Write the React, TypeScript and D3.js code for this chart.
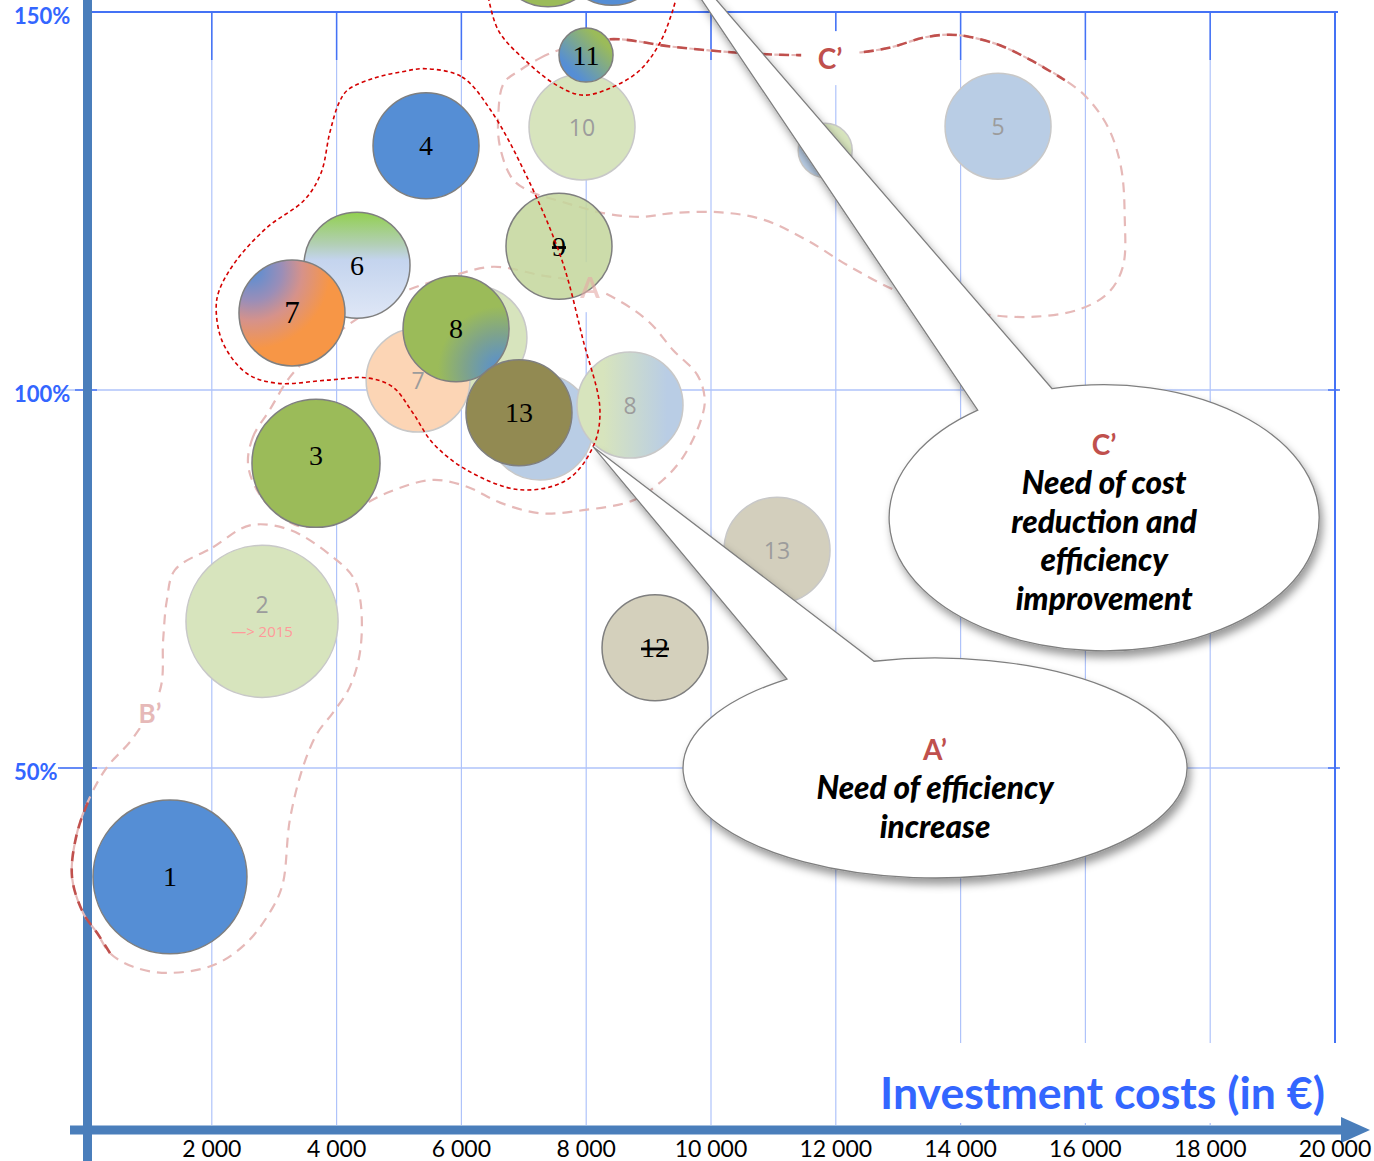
import React, { useEffect, useRef } from 'react'
import * as d3 from 'd3'

const W = 1374
const H = 1161

const xTicks = [2000, 4000, 6000, 8000, 10000, 12000, 14000, 16000, 18000, 20000]
const yTicks = [50, 100, 150]

interface Bubble {
  key: string
  label: string
  cost: number // €
  pct: number // %
  size: number
  strike?: boolean
  note?: string
}

// earlier (faded) positions
const fadedBubbles: Bubble[] = [
  { key: 'f2', label: '2', cost: 2805, pct: 69.4, size: 206, note: '—> 2015' },
  { key: 'f5', label: '5', cost: 14600, pct: 134.9, size: 100 },
  { key: 'f10', label: '10', cost: 7933, pct: 134.8, size: 100 },
  { key: 'f11', label: '', cost: 11830, pct: 131.7, size: 26 },
  { key: 'fg', label: '', cost: 6218, pct: 106.9, size: 96 },
  { key: 'f7', label: '7', cost: 5305, pct: 101.3, size: 96 },
  { key: 'fb', label: '', cost: 7260, pct: 95.1, size: 100 },
  { key: 'f8', label: '8', cost: 8702, pct: 98.0, size: 100 },
  { key: 'f13', label: '13', cost: 11058, pct: 78.8, size: 100 },
]

// current positions
const solidBubbles: Bubble[] = [
  { key: 's1', label: '1', cost: 1330, pct: 35.6, size: 211 },
  { key: 's3', label: '3', cost: 3670, pct: 90.3, size: 146 },
  { key: 's4', label: '4', cost: 5433, pct: 132.3, size: 100 },
  { key: 's6', label: '6', cost: 4327, pct: 116.5, size: 100 },
  { key: 's7', label: '7', cost: 3285, pct: 110.2, size: 100 },
  { key: 's9', label: '9', cost: 7564, pct: 119.0, size: 100, strike: true },
  { key: 's8', label: '8', cost: 5914, pct: 108.1, size: 100 },
  { key: 's13', label: '13', cost: 6923, pct: 97.0, size: 100 },
  { key: 's12', label: '12', cost: 9103, pct: 65.9, size: 100, strike: true },
  { key: 's11', label: '11', cost: 7997, pct: 144.3, size: 26 },
  { key: 'sg', label: '', cost: 7388, pct: 157.7, size: 100 },
  { key: 'sb', label: '', cost: 8414, pct: 157.9, size: 100 },
]

const bubbleFill: Record<string, string> = {
  f2: '#d7e4bd', f5: '#b9cde5', f10: '#d7e4bd', f11: 'url(#g11f)', fg: '#d7e4bd', f7: '#fcd5b5',
  fb: '#b9cde5', f8: 'url(#g8f)', f13: '#d3cfbd',
  s1: '#558ed5', s3: '#9bbb59', s4: '#558ed5', s6: 'url(#g6)', s7: 'url(#g7)', s9: '#c3d69b',
  s8: 'url(#g8)', s13: '#928a52', s12: '#d4d0bc', s11: 'url(#g11)', sg: '#9bbb59', sb: '#558ed5',
}

// outlines, [k€, %]
const outlineAprime: [number, number][] = [
  [5.43, 142.5], [6.01, 141.4], [6.47, 137.0], [7.05, 128.2], [7.61, 117.2], [7.95, 106.6],
  [8.22, 97.4], [8.11, 92.5], [7.69, 88.1], [6.94, 86.8], [6.09, 89.4], [5.54, 93.0],
  [5.22, 97.0], [4.9, 100.4], [4.49, 101.6], [3.85, 101.3], [3.04, 100.9], [2.56, 102.2],
  [2.18, 106.2], [2.07, 110.6], [2.12, 113.2], [2.4, 117.2], [2.9, 121.6], [3.48, 125.1],
  [3.75, 128.7], [3.89, 134.0], [4.04, 138.0], [4.18, 139.7], [4.62, 141.3], [5.05, 142.1],
]
const outlineTop: [number, number][] = [
  [6.41, 152.9], [6.59, 147.6], [7.05, 143.4], [7.53, 140.3], [7.95, 139.0], [8.43, 140.1],
  [8.86, 142.3], [9.18, 145.9], [9.39, 150.3], [9.47, 152.9],
]
const outlineB: [number, number][] = [
  [1.41, 76.2], [2.02, 79.2], [2.61, 82.1], [3.25, 81.5], [3.94, 77.9], [4.26, 75.3],
  [4.38, 72.2], [4.38, 65.6], [4.21, 60.7], [3.94, 57.3], [3.69, 54.6], [3.46, 50.1],
  [3.25, 43.1], [3.14, 34.8], [2.98, 31.6], [2.56, 26.9], [2.02, 23.9], [1.28, 22.9],
  [0.74, 23.7], [0.37, 25.5], [0.16, 28.2], [-0.06, 30.8], [-0.24, 35.6], [-0.16, 41.4],
  [0.05, 46.2], [0.32, 50.1], [0.74, 54.0], [1.17, 60.3], [1.22, 66.9], [1.28, 72.2],
]
const outlineA: [number, number][] = [
  [2.93, 97.4], [2.66, 93.8], [2.58, 90.3], [2.72, 86.8], [3.04, 83.7], [3.46, 81.9],
  [4.05, 83.2], [4.81, 86.4], [5.54, 88.1], [6.09, 87.2], [6.62, 85.1], [7.26, 83.7],
  [7.95, 84.1], [8.75, 85.4], [9.23, 88.1], [9.55, 91.1], [9.82, 95.6], [9.9, 98.7],
  [9.78, 102.0], [9.39, 105.3], [9.02, 108.9], [8.59, 111.5], [7.9, 114.2], [7.26, 115.2],
  [6.51, 116.3], [5.82, 115.0], [5.02, 112.8], [4.38, 109.7], [3.73, 105.7], [3.25, 101.7],
]
const outlineC: [number, number][] = [
  [6.94, 142.3], [7.26, 143.9], [7.58, 145.0], [8.38, 146.4], [9.39, 145.4], [10.46, 144.6],
  [11.41, 144.3], [11.91, 144.4], [12.44, 144.7], [12.92, 145.4], [13.4, 146.6], [13.81, 147.0],
  [14.15, 146.7], [14.63, 145.6], [15.11, 143.7], [15.67, 141.0], [16.01, 138.8], [16.36, 134.8],
  [16.57, 129.5], [16.63, 122.9], [16.6, 116.3], [16.36, 112.8], [15.88, 110.6], [15.19, 109.7],
  [14.5, 109.9], [13.83, 111.0], [13.06, 112.8], [12.23, 116.3], [11.54, 119.8], [10.85, 122.5],
  [10.16, 123.5], [9.39, 123.4], [8.86, 122.9], [8.27, 123.4], [7.9, 124.2], [7.53, 125.1],
  [7.15, 126.1], [6.83, 127.8], [6.62, 132.1], [6.59, 136.1], [6.68, 140.6],
]

const groupLabels = [
  { key: 'B', text: 'B’', k: 1.01, pct: 57.3 },
  { key: 'A', text: 'A', k: 8.06, pct: 113.6 },
  { key: 'C', text: 'C’', k: 11.91, pct: 143.9 },
]

const callouts = [
  { key: 'C', title: 'C’', lines: ['Need of cost', 'reduction and', 'efficiency', 'improvement'], k: 16.3, pct: 83.1, tipK: 9.02, tipPct: 161.8 },
  { key: 'A', title: 'A’', lines: ['Need of efficiency', 'increase'], k: 13.59, pct: 50.0, tipK: 8.11, tipPct: 92.5 },
]

const BRIGHT = '#4472f5'
const GRID = '#afc3fa'
const AXIS = '#4a7ebb'
const LABEL_BLUE = '#3366ff'

export default function App() {
  const svgRef = useRef<SVGSVGElement>(null)

  useEffect(() => {
    if (!svgRef.current) return
    const svg = d3.select(svgRef.current)
    svg.selectAll('*').remove()

    const x = d3.scaleLinear().domain([0, 20000]).range([87, 1335])
    const y = d3.scaleLinear().domain([0, 150]).range([1146, 12])
    const r = d3.scaleSqrt().domain([0, 100]).range([0, 53])
    const kx = (k: number) => x(k * 1000)
    const axisY = 1130
    const gridBottom = 1125

    // defs: gradients + shadow
    const defs = svg.append('defs')
    const lin = (id: string, c: number[], stops: [number, string][]) => {
      const g = defs.append('linearGradient').attr('id', id)
        .attr('x1', c[0]).attr('y1', c[1]).attr('x2', c[2]).attr('y2', c[3])
      stops.forEach(([o, col]) => g.append('stop').attr('offset', o).attr('stop-color', col))
    }
    const rad = (id: string, c: number[], stops: [number, string][]) => {
      const g = defs.append('radialGradient').attr('id', id)
        .attr('cx', c[0]).attr('cy', c[1]).attr('r', c[2]).attr('fx', c[0]).attr('fy', c[1])
      stops.forEach(([o, col]) => g.append('stop').attr('offset', o).attr('stop-color', col))
    }
    lin('g6', [0, 0, 0, 1], [[0, '#92d050'], [0.3, '#b2cfb4'], [0.45, '#c4d4ee'], [1, '#dfe7f6']])
    rad('g7', [0.12, 0.1, 0.95], [[0, '#558ed5'], [0.3, '#9a8eb8'], [0.5, '#d6928a'], [0.78, '#f79646']])
    rad('g8', [0.92, 0.88, 0.95], [[0, '#558ed5'], [0.35, '#7ea38c'], [0.62, '#9bbb59']])
    lin('g11', [0.1, 0.9, 0.9, 0.1], [[0.15, '#558ed5'], [0.85, '#9bbb59']])
    lin('g8f', [0, 0, 1, 0], [[0.25, '#d7e4bd'], [0.85, '#b9cde5']])
    lin('g11f', [0.1, 0.9, 0.9, 0.1], [[0.2, '#b9cde5'], [0.8, '#d7e4bd']])
    const filt = defs.append('filter').attr('id', 'shadow')
      .attr('x', '-20%').attr('y', '-20%').attr('width', '140%').attr('height', '150%')
    filt.append('feDropShadow').attr('dx', 3).attr('dy', 6).attr('stdDeviation', 4)
      .attr('flood-color', '#000').attr('flood-opacity', 0.4)

    svg.append('rect').attr('width', W).attr('height', H).attr('fill', '#fff')

    // grid
    svg.append('g').selectAll('line').data(xTicks.slice(0, -1)).join('line')
      .attr('x1', (d) => x(d)).attr('x2', (d) => x(d))
      .attr('y1', y(150)).attr('y2', gridBottom)
      .attr('stroke', GRID).attr('stroke-width', 1.2)
    svg.append('g').selectAll('line').data(yTicks.slice(0, -1)).join('line')
      .attr('x1', 60).attr('x2', 1338)
      .attr('y1', (d) => y(d)).attr('y2', (d) => y(d))
      .attr('stroke', GRID).attr('stroke-width', 1.5)

    // white box behind axis title
    svg.append('rect').attr('x', 870).attr('y', 1043).attr('width', 475).attr('height', 80).attr('fill', '#fff')

    // bright frame + ticks
    const bright = svg.append('g').attr('stroke', BRIGHT)
    bright.append('line').attr('x1', 87).attr('x2', 1338).attr('y1', y(150)).attr('y2', y(150)).attr('stroke-width', 2)
    bright.append('line').attr('x1', x(20000)).attr('x2', x(20000)).attr('y1', y(150)).attr('y2', 1043).attr('stroke-width', 2)
    bright.selectAll('.tt').data(xTicks.slice(0, -1)).join('line')
      .attr('x1', (d) => x(d)).attr('x2', (d) => x(d)).attr('y1', y(150)).attr('y2', 60).attr('stroke-width', 1.5)
    bright.selectAll('.rt').data(yTicks.slice(0, -1)).join('line')
      .attr('x1', 1328).attr('x2', 1340).attr('y1', (d) => y(d)).attr('y2', (d) => y(d)).attr('stroke-width', 1.5)
    bright.selectAll('.lt').data(yTicks.slice(0, -1)).join('line')
      .attr('x1', (d) => (d === 50 ? 58 : 75)).attr('x2', 97).attr('y1', (d) => y(d)).attr('y2', (d) => y(d)).attr('stroke-width', 1.5)

    // axes
    svg.append('line').attr('x1', 87.5).attr('x2', 87.5).attr('y1', 0).attr('y2', H)
      .attr('stroke', AXIS).attr('stroke-width', 9)
    svg.append('line').attr('x1', 70).attr('x2', 1345).attr('y1', axisY).attr('y2', axisY)
      .attr('stroke', AXIS).attr('stroke-width', 9)
    svg.append('path').attr('d', `M1341,${axisY - 13} L1370,${axisY} L1341,${axisY + 13} Z`).attr('fill', AXIS)

    // group outlines
    const toPts = (arr: [number, number][]) => arr.map(([k, p]) => [kx(k), y(p)] as [number, number])
    const closed = d3.line().curve(d3.curveCatmullRomClosed.alpha(0.5))
    const open = d3.line().curve(d3.curveCatmullRom.alpha(0.5))
    const pink = (sel: any) => sel.attr('fill', 'none').attr('stroke', '#e6b9b8').attr('stroke-width', 2.2).attr('stroke-dasharray', '10 7')
    const darkRed = (sel: any) => sel.attr('fill', 'none').attr('stroke', '#c0504d').attr('stroke-width', 2.6).attr('stroke-dasharray', '10 7')
    const redThin = (sel: any) => sel.attr('fill', 'none').attr('stroke', '#d40000').attr('stroke-width', 1.6).attr('stroke-dasharray', '4 3')

    svg.append('path').attr('d', closed(toPts(outlineB))).call(pink)
    svg.append('path').attr('d', open(toPts(outlineB.slice(19, 25)))).call(darkRed)
    svg.append('path').attr('d', closed(toPts(outlineA))).call(pink)
    svg.append('path').attr('d', closed(toPts(outlineC))).call(pink)
    svg.append('path').attr('d', open(toPts(outlineC.slice(2, 16)))).call(darkRed)

    // label boxes
    const boxes: Record<string, [number, number]> = { B: [30, 30], A: [30, 50], C: [58, 54] }
    groupLabels.forEach((g) => {
      const [bw, bh] = boxes[g.key]
      svg.append('rect').attr('x', kx(g.k) - bw / 2).attr('y', y(g.pct) - bh / 2)
        .attr('width', bw).attr('height', bh).attr('fill', '#fff')
    })

    // bubbles
    const drawBubbles = (data: Bubble[], faded: boolean) => {
      const g = svg.append('g')
      g.selectAll('circle').data(data).join('circle')
        .attr('cx', (d) => x(d.cost)).attr('cy', (d) => y(d.pct)).attr('r', (d) => r(d.size))
        .attr('fill', (d) => bubbleFill[d.key])
        .attr('fill-opacity', (d) => (d.key === 's9' ? 0.85 : 1))
        .attr('stroke', faded ? '#c8c8c8' : '#7f7f7f').attr('stroke-width', 1.5)
      return g
    }
    const fg = drawBubbles(fadedBubbles, true)
    const sg = drawBubbles(solidBubbles, false)

    fg.selectAll('text.lbl').data(fadedBubbles.filter((d) => d.label)).join('text')
      .attr('class', 'lbl')
      .attr('x', (d) => x(d.cost)).attr('y', (d) => y(d.pct) - (d.note ? 17 : 0))
      .attr('text-anchor', 'middle').attr('dominant-baseline', 'central')
      .attr('font-family', '"Open Sans", sans-serif').attr('font-size', 23).attr('fill', '#9c9c9c')
      .text((d) => d.label)
    fg.selectAll('text.note').data(fadedBubbles.filter((d) => d.note)).join('text')
      .attr('class', 'note')
      .attr('x', (d) => x(d.cost)).attr('y', (d) => y(d.pct) + 10)
      .attr('text-anchor', 'middle').attr('dominant-baseline', 'central')
      .attr('font-family', '"Open Sans", sans-serif').attr('font-size', 15).attr('fill', '#ff9a9a')
      .text((d) => d.note || '')

    sg.selectAll('text').data(solidBubbles.filter((d) => d.label)).join('text')
      .attr('x', (d) => x(d.cost)).attr('y', (d) => y(d.pct) - (d.key === 's3' ? 8 : 0))
      .attr('text-anchor', 'middle').attr('dominant-baseline', 'central')
      .attr('font-family', '"Liberation Serif", "DejaVu Serif", serif')
      .attr('font-size', (d) => (d.key === 's7' ? 31 : 28)).attr('fill', '#000')
      .style('text-decoration', (d) => (d.strike ? 'line-through' : 'none'))
      .text((d) => d.label)

    // thin red outlines on top
    svg.append('path').attr('d', closed(toPts(outlineAprime))).call(redThin)
    svg.append('path').attr('d', open(toPts(outlineTop))).call(redThin)

    // group labels
    const lblStyle: Record<string, { fill: string; op: number; size: number }> = {
      B: { fill: '#e6b9b8', op: 1, size: 26 },
      A: { fill: '#e6a9a6', op: 0.6, size: 28 },
      C: { fill: '#c0504d', op: 1, size: 28 },
    }
    groupLabels.forEach((g) => {
      const s = lblStyle[g.key]
      svg.append('text').attr('x', kx(g.k)).attr('y', y(g.pct))
        .attr('text-anchor', 'middle').attr('dominant-baseline', 'central')
        .attr('font-family', 'Lato, "Open Sans", sans-serif').attr('font-weight', 700)
        .attr('font-size', s.size).attr('fill', s.fill).attr('opacity', s.op)
        .text(g.text)
    })

    // tick labels
    svg.append('g').selectAll('text').data(xTicks).join('text')
      .attr('x', (d) => x(d)).attr('y', 1148)
      .attr('text-anchor', 'middle').attr('dominant-baseline', 'central')
      .attr('font-family', 'Lato, sans-serif').attr('font-size', 23).attr('fill', '#000')
      .text((d) => d3.format(',')(d).replace(',', ' '))
    svg.append('g').selectAll('text').data(yTicks).join('text')
      .attr('x', 14).attr('y', (d) => y(d) + 3)
      .attr('dominant-baseline', 'central')
      .attr('font-family', 'Lato, sans-serif').attr('font-weight', 700).attr('font-size', 22)
      .attr('fill', LABEL_BLUE)
      .text((d) => `${d}%`)
    svg.append('text').attr('x', 880).attr('y', 1092)
      .attr('dominant-baseline', 'central')
      .attr('font-family', 'Lato, sans-serif').attr('font-weight', 700).attr('font-size', 44)
      .attr('fill', LABEL_BLUE)
      .attr('textLength', 445).attr('lengthAdjust', 'spacingAndGlyphs')
      .text('Investment costs (in €)')

    // callouts
    const calloutLayout: Record<string, { rx: number; ry: number; dy: number }> = {
      C: { rx: 215, ry: 133, dy: 3 },
      A: { rx: 252, ry: 110, dy: 19 },
    }
    const a1 = (256 * Math.PI) / 180
    const a2 = (234 * Math.PI) / 180
    callouts.forEach((c) => {
      const { rx, ry, dy } = calloutLayout[c.key]
      const cx = kx(c.k)
      const cy = y(c.pct)
      const p1 = [cx + rx * Math.cos(a1), cy + ry * Math.sin(a1)]
      const p2 = [cx + rx * Math.cos(a2), cy + ry * Math.sin(a2)]
      const tip = [kx(c.tipK), y(c.tipPct)]
      svg.append('path')
        .attr('d', `M${p1[0]},${p1[1]} A${rx},${ry} 0 1 1 ${p2[0]},${p2[1]} L${tip[0]},${tip[1]} Z`)
        .attr('fill', '#fff').attr('stroke', '#7f7f7f').attr('stroke-width', 1.3)
        .attr('filter', 'url(#shadow)')
      const lh = 38.5
      const n = c.lines.length
      const y0 = cy - (n * lh) / 2 + dy
      svg.append('text').attr('x', cx).attr('y', y0)
        .attr('text-anchor', 'middle').attr('dominant-baseline', 'central')
        .attr('font-family', 'Lato, sans-serif').attr('font-weight', 700).attr('font-size', 28)
        .attr('fill', '#c0504d').text(c.title)
      c.lines.forEach((ln, i) => {
        svg.append('text').attr('x', cx).attr('y', y0 + lh * (i + 1))
          .attr('text-anchor', 'middle').attr('dominant-baseline', 'central')
          .attr('font-family', 'Lato, sans-serif').attr('font-weight', 900).attr('font-style', 'italic')
          .attr('font-size', 31.5).attr('fill', '#000').text(ln)
      })
    })
  }, [])

  return (
    <div style={{ position: 'absolute', left: 0, top: 0 }}>
      <svg ref={svgRef} width={W} height={H} style={{ display: 'block' }} />
    </div>
  )
}
